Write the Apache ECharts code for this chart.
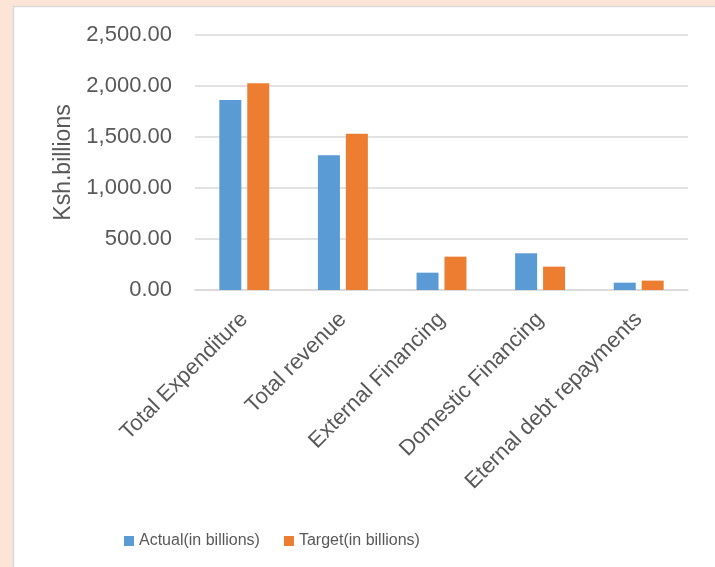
<!DOCTYPE html>
<html>
<head>
<meta charset="utf-8">
<script src="https://cdn.jsdelivr.net/npm/echarts@6/dist/echarts.min.js"></script>
<style>
html,body{margin:0;padding:0;background:#fce4d6;}
#chart{width:715px;height:567px;}
</style>
</head>
<body>
<div id="chart"></div>
<script>
var categories = ['Total Expenditure', 'Total revenue', 'External Financing', 'Domestic Financing', 'Eternal debt repayments'];
var actual = [1863, 1322, 170, 360, 72];
var target = [2026, 1532, 327, 229, 92];
var seriesNames = ['Actual(in billions)', 'Target(in billions)'];
var yTicks = [0, 500, 1000, 1500, 2000, 2500];

var chart = echarts.init(document.getElementById('chart'));
var font = 'Liberation Sans, Arial, sans-serif';
function fmt(v) {
  return Number(v).toLocaleString('en-US', {minimumFractionDigits: 2, maximumFractionDigits: 2});
}
chart.setOption({
  backgroundColor: 'transparent',
  animation: false,
  graphic: [{
    type: 'rect', z: -10, silent: true,
    shape: {x: 13.5, y: 6.5, width: 710, height: 570},
    style: {fill: '#ffffff', stroke: '#d9d9d9', lineWidth: 1.5}
  }],
  grid: {left: 195, right: 27, top: 35, bottom: 277},
  legend: {
    data: seriesNames,
    left: 119, top: 528,
    icon: 'rect', itemWidth: 10, itemHeight: 10, itemGap: 24,
    textStyle: {color: '#595959', fontSize: 16, fontFamily: font}
  },
  xAxis: {
    type: 'category',
    data: categories,
    axisLine: {lineStyle: {color: '#d9d9d9', width: 1.5}},
    axisTick: {show: false},
    axisLabel: {rotate: 45, margin: 26, color: '#595959', fontSize: 22, fontFamily: font, interval: 0}
  },
  yAxis: {
    type: 'value',
    min: yTicks[0], max: yTicks[yTicks.length - 1], interval: 500,
    name: 'Ksh.billions',
    nameLocation: 'middle',
    nameGap: 115,
    nameTextStyle: {color: '#595959', fontSize: 23, fontFamily: font},
    axisLine: {show: false},
    axisTick: {show: false},
    splitLine: {lineStyle: {color: '#d9d9d9', width: 1.5}},
    axisLabel: {margin: 23, color: '#595959', fontSize: 22, fontFamily: font, formatter: fmt}
  },
  series: [
    {name: seriesNames[0], type: 'bar', data: actual, barWidth: 22, barGap: '27%', itemStyle: {color: '#5b9bd5'}},
    {name: seriesNames[1], type: 'bar', data: target, barWidth: 22, itemStyle: {color: '#ed7d31'}}
  ]
});
</script>
</body>
</html>
